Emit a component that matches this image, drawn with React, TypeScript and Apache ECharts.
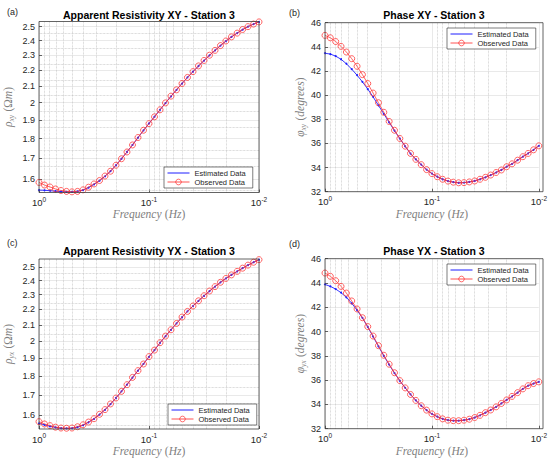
import React, { useEffect, useRef } from "react";
import * as echarts from "echarts";

// Frequencies (Hz), 20 samples per decade from 1 Hz down to 0.01 Hz
const FREQ_HZ = [
  1, 0.8913, 0.7943, 0.7079, 0.631, 0.5623, 0.5012, 0.4467, 0.3981, 0.3548,
  0.3162, 0.2818, 0.2512, 0.2239, 0.1995, 0.1778, 0.1585, 0.1413, 0.1259, 0.1122,
  0.1, 0.0891, 0.0794, 0.0708, 0.0631, 0.0562, 0.0501, 0.0447, 0.0398, 0.0355,
  0.0316, 0.0282, 0.0251, 0.0224, 0.02, 0.0178, 0.0158, 0.0141, 0.0126, 0.0112,
  0.01,
];

// Apparent resistivity XY (Ohm m)
const RHO_XY_EST = [
  1.548, 1.547, 1.545, 1.543, 1.541, 1.54, 1.54, 1.542, 1.548, 1.559,
  1.574, 1.591, 1.612, 1.636, 1.665, 1.697, 1.731, 1.767, 1.805, 1.844,
  1.882, 1.92, 1.959, 1.998, 2.038, 2.077, 2.116, 2.154, 2.191, 2.227,
  2.263, 2.298, 2.332, 2.365, 2.396, 2.426, 2.453, 2.478, 2.5, 2.519,
  2.535,
];
const RHO_XY_OBS = [
  1.583, 1.571, 1.562, 1.553, 1.546, 1.542, 1.54, 1.542, 1.549, 1.561,
  1.576, 1.592, 1.613, 1.636, 1.665, 1.697, 1.731, 1.767, 1.806, 1.845,
  1.881, 1.919, 1.959, 1.999, 2.039, 2.077, 2.116, 2.154, 2.191, 2.228,
  2.264, 2.299, 2.332, 2.365, 2.397, 2.426, 2.453, 2.479, 2.5, 2.519,
  2.535,
];

// Apparent resistivity YX (Ohm m)
const RHO_YX_EST = [
  1.56, 1.553, 1.546, 1.541, 1.537, 1.536, 1.537, 1.542, 1.551, 1.565,
  1.581, 1.602, 1.625, 1.653, 1.684, 1.718, 1.753, 1.791, 1.829, 1.867,
  1.907, 1.946, 1.989, 2.029, 2.069, 2.109, 2.149, 2.187, 2.223, 2.258,
  2.292, 2.325, 2.357, 2.388, 2.416, 2.442, 2.468, 2.492, 2.515, 2.537,
  2.557,
];
const RHO_YX_OBS = [
  1.568, 1.557, 1.549, 1.542, 1.538, 1.537, 1.538, 1.544, 1.553, 1.566,
  1.582, 1.603, 1.626, 1.654, 1.684, 1.718, 1.753, 1.792, 1.829, 1.866,
  1.908, 1.946, 1.99, 2.03, 2.069, 2.109, 2.15, 2.187, 2.223, 2.258,
  2.293, 2.326, 2.357, 2.388, 2.416, 2.442, 2.468, 2.492, 2.515, 2.537,
  2.557,
];

// Phase XY (degrees)
const PHI_XY_EST = [
  43.47, 43.4, 43.23, 42.97, 42.6, 42.15, 41.65, 41.1, 40.5, 39.85,
  39.15, 38.45, 37.75, 37.05, 36.4, 35.76, 35.16, 34.68, 34.24, 33.83,
  33.5, 33.24, 33.03, 32.88, 32.79, 32.74, 32.75, 32.81, 32.89, 33.03,
  33.19, 33.38, 33.59, 33.8, 34.07, 34.31, 34.61, 34.9, 35.17, 35.47,
  35.8,
];
const PHI_XY_OBS = [
  44.95, 44.75, 44.44, 44.04, 43.57, 43.02, 42.39, 41.7, 40.96, 40.17,
  39.37, 38.58, 37.82, 37.09, 36.41, 35.77, 35.17, 34.68, 34.24, 33.83,
  33.5, 33.24, 33.03, 32.88, 32.79, 32.74, 32.75, 32.81, 32.89, 33.03,
  33.19, 33.38, 33.59, 33.8, 34.07, 34.31, 34.61, 34.9, 35.17, 35.47,
  35.8,
];

// Phase YX (degrees)
const PHI_YX_EST = [
  43.88, 43.72, 43.5, 43.2, 42.82, 42.33, 41.76, 41.12, 40.38, 39.58,
  38.78, 38.0, 37.27, 36.58, 35.94, 35.36, 34.82, 34.33, 33.89, 33.53,
  33.22, 32.99, 32.81, 32.7, 32.66, 32.66, 32.7, 32.78, 32.92, 33.1,
  33.32, 33.54, 33.8, 34.08, 34.37, 34.66, 34.97, 35.28, 35.54, 35.72,
  35.86,
];
const PHI_YX_OBS = [
  44.82, 44.55, 44.19, 43.72, 43.17, 42.52, 41.86, 41.14, 40.41, 39.63,
  38.84, 38.05, 37.31, 36.61, 35.96, 35.36, 34.82, 34.33, 33.89, 33.53,
  33.22, 32.99, 32.81, 32.7, 32.66, 32.66, 32.7, 32.78, 32.92, 33.1,
  33.32, 33.54, 33.8, 34.08, 34.37, 34.66, 34.97, 35.28, 35.54, 35.72,
  35.86,
];

// Axis ticks and grid guides
const RHO_TICKS = [1.6, 1.7, 1.8, 1.9, 2.0, 2.1, 2.2, 2.3, 2.4, 2.5];
const RHO_MINOR = [1.55, 1.65, 1.75, 1.85, 1.95, 2.05, 2.15, 2.25, 2.35, 2.45, 2.55];
const FREQ_MINOR = [
  0.9, 0.8, 0.7, 0.6, 0.5, 0.4, 0.3, 0.2,
  0.09, 0.08, 0.07, 0.06, 0.05, 0.04, 0.03, 0.02,
];
const RHO_XY_RANGE = [1.537, 2.538];
const RHO_YX_RANGE = [1.5335, 2.562];
const PHI_RANGE = [32, 46];

const TITLES = [
  "Apparent Resistivity XY - Station 3",
  "Phase XY - Station 3",
  "Apparent Resistivity YX - Station 3",
  "Phase YX - Station 3",
];
const LETTERS = ["(a)", "(b)", "(c)", "(d)"];
const SERIES_NAMES = ["Estimated Data", "Observed Data"];

const SANS = '"Liberation Sans", Arial, Helvetica, sans-serif';
const SERIF = '"Liberation Serif", "Times New Roman", serif';
const INK = "#262626";
const LABEL_GREY = "#808080";
const BLUE = "#1f1fff";
const RED = "#ff3535";

const GRIDS = [
  { left: 39, top: 21.5, width: 220, height: 171 },
  { left: 325, top: 22.7, width: 218, height: 169 },
  { left: 39, top: 259, width: 220, height: 170 },
  { left: 325, top: 258.7, width: 218, height: 170 },
];
const LEGEND_POS = [
  { left: 164, top: 167 },
  { left: 447, top: 28 },
  { left: 168, top: 404 },
  { left: 447, top: 264 },
];
const TITLE_POS = [
  { x: 149, top: 9 },
  { x: 434, top: 9 },
  { x: 149, top: 245 },
  { x: 434, top: 245 },
];
const LETTER_POS = [
  { x: 7, y: 12 },
  { x: 289, y: 13 },
  { x: 7, y: 243 },
  { x: 289, y: 244 },
];

const nameRich = {
  i: { fontFamily: SERIF, fontStyle: "italic", fontSize: 11.5, color: LABEL_GREY },
  n: { fontFamily: SERIF, fontSize: 11.5, color: LABEL_GREY },
  sub: {
    fontFamily: SERIF,
    fontStyle: "italic",
    fontSize: 7.5,
    color: LABEL_GREY,
    padding: [6, 0, 0, 0],
  },
};

const log10 = (v: number) => Math.log10(v);

export default function App() {
  const ref = useRef<HTMLDivElement>(null);

  useEffect(() => {
    if (!ref.current) return;
    const chart = echarts.init(ref.current, undefined, { renderer: "svg" });

    const panels = [
      { kind: "rho", est: RHO_XY_EST, obs: RHO_XY_OBS, range: RHO_XY_RANGE, sub: "xy" },
      { kind: "phi", est: PHI_XY_EST, obs: PHI_XY_OBS, range: PHI_RANGE, sub: "xy" },
      { kind: "rho", est: RHO_YX_EST, obs: RHO_YX_OBS, range: RHO_YX_RANGE, sub: "yx" },
      { kind: "phi", est: PHI_YX_EST, obs: PHI_YX_OBS, range: PHI_RANGE, sub: "yx" },
    ];

    const xAxes = panels.map((_, p) => ({
      type: "log",
      logBase: 10,
      gridIndex: p,
      min: 0.01,
      max: 1,
      inverse: true,
      name: "{i|Frequency} {n|(}{i|Hz}{n|)}",
      nameLocation: "middle",
      nameGap: 14,
      nameTextStyle: { rich: nameRich },
      axisLine: { show: false },
      axisTick: { inside: true, length: 3, lineStyle: { color: INK, width: 0.7 } },
      axisLabel: {
        margin: 3,
        formatter: (v: number) => `{b|10}{s|${Math.round(Math.log10(v))}}`,
        rich: {
          b: { fontFamily: SANS, fontSize: 9.5, color: INK },
          s: { fontFamily: SANS, fontSize: 6.5, color: INK, padding: [0, 0, 7, 0] },
        },
      },
      splitLine: { show: true, lineStyle: { color: "#e3e3e3", width: 0.8 } },
    }));

    const yAxes = panels.map((pn, p) => {
      const common = {
        gridIndex: p,
        nameLocation: "middle",
        nameRotate: 90,
        nameTextStyle: { rich: nameRich },
        axisLine: { show: false },
        splitLine: { show: true, lineStyle: { color: "#e3e3e3", width: 0.8 } },
      };
      if (pn.kind === "rho") {
        const tickVals = RHO_TICKS.map(log10);
        return {
          ...common,
          type: "value",
          min: log10(pn.range[0]),
          max: log10(pn.range[1]),
          name: `{i|ρ}{sub|${pn.sub}} {n|(Ω}{i|m}{n|)}`,
          nameGap: 24,
          axisTick: {
            inside: true,
            length: 3,
            customValues: tickVals,
            lineStyle: { color: INK, width: 0.7 },
          },
          axisLabel: {
            customValues: tickVals,
            margin: 4,
            fontFamily: SANS,
            fontSize: 9,
            color: INK,
            formatter: (v: number) => String(Math.round(Math.pow(10, v) * 10) / 10),
          },
        };
      }
      return {
        ...common,
        type: "value",
        min: pn.range[0],
        max: pn.range[1],
        interval: 2,
        name: `{i|φ}{sub|${pn.sub}} {n|(}{i|degrees}{n|)}`,
        nameGap: 17,
        axisTick: { inside: true, length: 3, lineStyle: { color: INK, width: 0.7 } },
        axisLabel: { margin: 4, fontFamily: SANS, fontSize: 9, color: INK },
      };
    });

    const series: any[] = [];
    panels.forEach((pn, p) => {
      const toY = pn.kind === "rho" ? log10 : (v: number) => v;
      const guides: any[] = FREQ_MINOR.map((f) => ({ xAxis: f }));
      if (pn.kind === "rho") {
        RHO_MINOR.filter((r) => r > pn.range[0] && r < pn.range[1]).forEach((r) =>
          guides.push({ yAxis: log10(r) })
        );
      }
      series.push({
        name: "minor-grid",
        type: "line",
        xAxisIndex: p,
        yAxisIndex: p,
        data: [],
        silent: true,
        z: 1,
        markLine: {
          silent: true,
          z: 1,
          symbol: ["none", "none"],
          label: { show: false },
          emphasis: { disabled: true },
          lineStyle: { type: "dotted", color: "#bdbdbd", width: 0.7 },
          data: guides,
        },
      });
      series.push({
        name: SERIES_NAMES[0],
        type: "line",
        xAxisIndex: p,
        yAxisIndex: p,
        data: FREQ_HZ.map((f, i) => [f, toY(pn.est[i])]),
        symbol: "circle",
        symbolSize: 2,
        lineStyle: { color: BLUE, width: 0.9 },
        itemStyle: { color: BLUE },
        z: 3,
      });
      series.push({
        name: SERIES_NAMES[1],
        type: "line",
        xAxisIndex: p,
        yAxisIndex: p,
        data: FREQ_HZ.map((f, i) => [f, toY(pn.obs[i])]),
        symbol: "circle",
        symbolSize: 6,
        lineStyle: { color: RED, width: 0.9, opacity: 0.85 },
        itemStyle: { color: "rgba(255,255,255,0)", borderColor: RED, borderWidth: 0.9, opacity: 0.85 },
        z: 4,
      });
    });

    const legends = LEGEND_POS.map((pos) => ({
      orient: "vertical",
      left: pos.left,
      top: pos.top,
      itemWidth: 22,
      itemHeight: 7,
      itemGap: 1,
      padding: [2, 7, 2, 3],
      backgroundColor: "#ffffff",
      borderColor: INK,
      borderWidth: 0.6,
      selectedMode: false,
      textStyle: { fontFamily: SANS, fontSize: 7.5, color: INK },
      data: [
        {
          name: SERIES_NAMES[0],
          itemStyle: { color: BLUE, borderColor: BLUE, borderWidth: 0, opacity: 0 },
          lineStyle: { color: BLUE, width: 1 },
        },
        {
          name: SERIES_NAMES[1],
          itemStyle: { color: "rgba(255,255,255,0)", borderColor: RED, borderWidth: 0.9 },
          lineStyle: { color: RED, width: 1 },
        },
      ],
    }));

    const titles = TITLES.map((t, i) => ({
      text: t,
      left: TITLE_POS[i].x,
      top: TITLE_POS[i].top,
      textAlign: "center",
      padding: 0,
      textStyle: { fontFamily: SANS, fontSize: 10.5, fontWeight: "bold", color: "#000" },
    }));

    const graphic: any[] = [];
    LETTERS.forEach((t, i) =>
      graphic.push({
        type: "text",
        x: LETTER_POS[i].x,
        y: LETTER_POS[i].y,
        silent: true,
        style: { text: t, fontFamily: SANS, fontSize: 9, fill: INK, verticalAlign: "middle" },
      })
    );
    GRIDS.forEach((g) =>
      graphic.push({
        type: "rect",
        silent: true,
        z: 100,
        shape: { x: g.left, y: g.top, width: g.width, height: g.height },
        style: { fill: "none", stroke: "#3c3c3c", lineWidth: 0.8 },
      })
    );

    chart.setOption({
      animation: false,
      backgroundColor: "#ffffff",
      title: titles,
      grid: GRIDS,
      xAxis: xAxes,
      yAxis: yAxes,
      legend: legends,
      series,
      graphic,
    });

    return () => chart.dispose();
  }, []);

  return (
    <div
      ref={ref}
      style={{ position: "fixed", left: 0, top: 0, width: 550, height: 459, background: "#fff" }}
    />
  );
}
